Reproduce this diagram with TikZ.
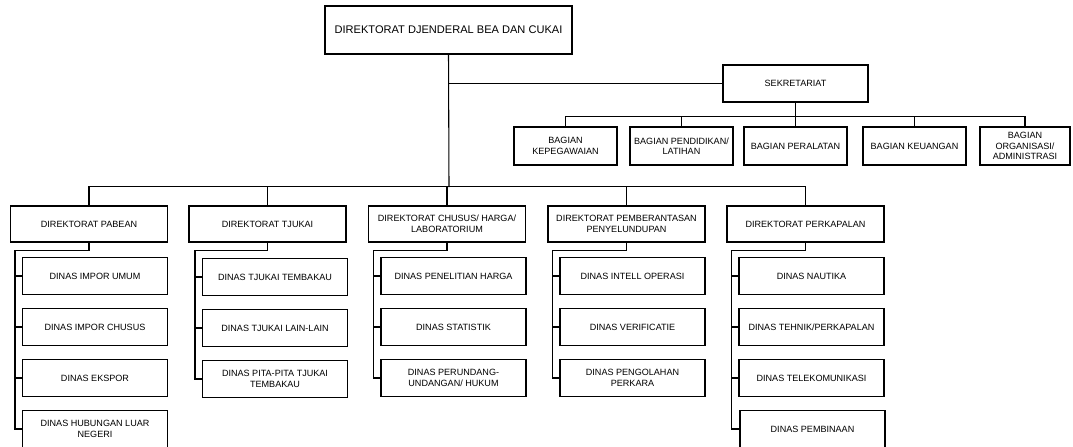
\documentclass[tikz,border=0pt]{standalone}
\usepackage{fontspec}
\setmainfont{Liberation Sans}
\usepackage{tikz}

\tikzset{
  unit/.style={draw, line width=0.8pt, align=center, inner sep=1pt,
    font=\fontsize{6.8}{7.9}\selectfont},
  headbox/.style={unit, minimum width=185.25pt, minimum height=36pt,
    font=\fontsize{8.3}{9.5}\selectfont},
  sekbox/.style={unit, minimum width=108.75pt, minimum height=27.75pt},
  bagbox/.style={unit, minimum width=77.25pt, minimum height=28.5pt},
  dirbox/.style={unit, minimum width=117.75pt, minimum height=27pt},
  dinasbox/.style={unit, minimum width=108.75pt, minimum height=27.75pt},
  link/.style={line width=0.8pt}
}

\begin{document}
\begin{tikzpicture}[x=0.75pt, y=-0.75pt]
\useasboundingbox (0,0) rectangle (1073,446);

\node[headbox] (Djenderal) at (448.5,30) {DIREKTORAT DJENDERAL BEA DAN CUKAI};
\node[sekbox] (Sekretariat) at (795.5,83.5) {SEKRETARIAT};

\node[bagbox] (BagKepegawaian) at (565.5,146) {BAGIAN\\KEPEGAWAIAN};
\node[bagbox] (BagPendidikan) at (681.5,146) {BAGIAN PENDIDIKAN/\\LATIHAN};
\node[bagbox] (BagPeralatan) at (795.5,146) {BAGIAN PERALATAN};
\node[bagbox] (BagKeuangan) at (914.5,146) {BAGIAN KEUANGAN};
\node[bagbox, minimum width=67.5pt] (BagOrganisasi) at (1025,146) {BAGIAN\\ORGANISASI/\\ADMINISTRASI};

\node[dirbox] (DirPabean) at (89,224) {DIREKTORAT PABEAN};
\node[dirbox] (DirTjukai) at (267.5,224) {DIREKTORAT TJUKAI};
\node[dirbox] (DirChusus) at (447,224) {DIREKTORAT CHUSUS/ HARGA/\\LABORATORIUM};
\node[dirbox] (DirPemberantasan) at (626.5,224) {DIREKTORAT PEMBERANTASAN\\PENYELUNDUPAN};
\node[dirbox] (DirPerkapalan) at (805.5,224) {DIREKTORAT PERKAPALAN};

\node[dinasbox] (DinasImporUmum) at (95,276) {DINAS IMPOR UMUM};
\node[dinasbox] (DinasImporChusus) at (95,327) {DINAS IMPOR CHUSUS};
\node[dinasbox] (DinasEkspor) at (95,378) {DINAS EKSPOR};
\node[dinasbox] (DinasHubungan) at (95,429) {DINAS HUBUNGAN LUAR\\NEGERI};

\node[dinasbox] (DinasTembakau) at (275,277) {DINAS TJUKAI TEMBAKAU};
\node[dinasbox] (DinasLainLain) at (275,328) {DINAS TJUKAI LAIN-LAIN};
\node[dinasbox] (DinasPitaPita) at (275,379) {DINAS PITA-PITA TJUKAI\\TEMBAKAU};

\node[dinasbox] (DinasPenelitian) at (453.5,276) {DINAS PENELITIAN HARGA};
\node[dinasbox] (DinasStatistik) at (453.5,327) {DINAS STATISTIK};
\node[dinasbox] (DinasPerundang) at (453.5,378) {DINAS PERUNDANG-\\UNDANGAN/ HUKUM};

\node[dinasbox] (DinasIntell) at (632.5,276) {DINAS INTELL OPERASI};
\node[dinasbox] (DinasVerificatie) at (632.5,327) {DINAS VERIFICATIE};
\node[dinasbox] (DinasPengolahan) at (632.5,378) {DINAS PENGOLAHAN\\PERKARA};

\node[dinasbox] (DinasNautika) at (811.5,276) {DINAS NAUTIKA};
\node[dinasbox] (DinasTehnik) at (811.5,327) {DINAS TEHNIK/PERKAPALAN};
\node[dinasbox] (DinasTelekomunikasi) at (811.5,378) {DINAS TELEKOMUNIKASI};
\node[dinasbox] (DinasPembinaan) at (812.5,429) {DINAS PEMBINAAN};

\coordinate (DirBus) at (449,187);
\draw[link] (Djenderal.south) -- (DirBus);
\draw[link] (Djenderal.south |- Sekretariat.west) -- (Sekretariat.west);
\draw[link] (DirPabean.north) -- ++(0,-19) -| (DirPerkapalan.north);
\draw[link] (DirTjukai.north) -- ++(0,-19);
\draw[link] (DirChusus.north) -- ++(0,-19);
\draw[link] (DirPemberantasan.north) -- ++(0,-19);

\draw[link] (Sekretariat.south) -- (BagPeralatan.north);
\draw[link] (BagKepegawaian.north) -- ++(0,-10) -| (BagOrganisasi.north);
\draw[link] (BagPendidikan.north) -- ++(0,-10);
\draw[link] (BagKeuangan.north) -- ++(0,-10);

\draw[link] (DirPabean.south) -- ++(0,8) -| ([xshift=-5.25pt]DinasHubungan.west) -- (DinasHubungan.west);
\draw[link] ([xshift=-5.25pt]DinasImporUmum.west) -- (DinasImporUmum.west);
\draw[link] ([xshift=-5.25pt]DinasImporChusus.west) -- (DinasImporChusus.west);
\draw[link] ([xshift=-5.25pt]DinasEkspor.west) -- (DinasEkspor.west);

\draw[link] (DirTjukai.south) -- ++(0,8) -| ([xshift=-5.25pt]DinasPitaPita.west) -- (DinasPitaPita.west);
\draw[link] ([xshift=-5.25pt]DinasTembakau.west) -- (DinasTembakau.west);
\draw[link] ([xshift=-5.25pt]DinasLainLain.west) -- (DinasLainLain.west);

\draw[link] (DirChusus.south) -- ++(0,8) -| ([xshift=-5.25pt]DinasPerundang.west) -- (DinasPerundang.west);
\draw[link] ([xshift=-5.25pt]DinasPenelitian.west) -- (DinasPenelitian.west);
\draw[link] ([xshift=-5.25pt]DinasStatistik.west) -- (DinasStatistik.west);

\draw[link] (DirPemberantasan.south) -- ++(0,8) -| ([xshift=-5.25pt]DinasPengolahan.west) -- (DinasPengolahan.west);
\draw[link] ([xshift=-5.25pt]DinasIntell.west) -- (DinasIntell.west);
\draw[link] ([xshift=-5.25pt]DinasVerificatie.west) -- (DinasVerificatie.west);

\draw[link] (DirPerkapalan.south) -- ++(0,8) -| ([xshift=-6pt]DinasPembinaan.west) -- (DinasPembinaan.west);
\draw[link] ([xshift=-5.25pt]DinasNautika.west) -- (DinasNautika.west);
\draw[link] ([xshift=-5.25pt]DinasTehnik.west) -- (DinasTehnik.west);
\draw[link] ([xshift=-5.25pt]DinasTelekomunikasi.west) -- (DinasTelekomunikasi.west);
\end{tikzpicture}
\end{document}
